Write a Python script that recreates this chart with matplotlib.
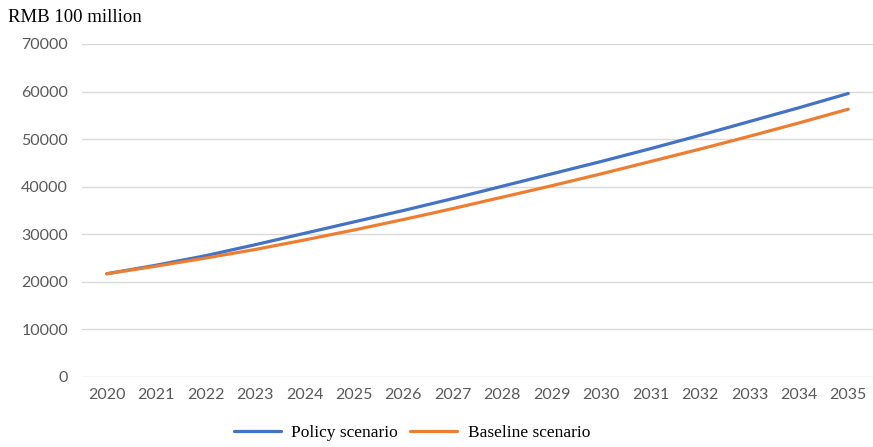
import matplotlib.pyplot as plt

years = [str(y) for y in range(2020, 2036)]
policy = [21700, 23500, 25500, 27800, 30200, 32600, 35000, 37500,
          40100, 42700, 45300, 48000, 50800, 53700, 56600, 59600]
baseline = [21700, 23300, 25000, 26800, 28800, 30900, 33100, 35400,
            37800, 40200, 42700, 45300, 47900, 50600, 53400, 56300]

fig = plt.figure(figsize=(8.73, 4.47), dpi=100)
ax = fig.add_axes([82 / 873, 1 - 377 / 447, 791 / 873, 333 / 447])

ax.plot(years, policy, color='#4472C4', lw=2.3, label='Policy scenario', solid_capstyle='round')
ax.plot(years, baseline, color='#ED7D31', lw=2.3, label='Baseline scenario', solid_capstyle='round')

ax.set_xlim(-0.5, len(years) - 0.5)
ax.set_ylim(0, 70000)
ax.set_yticks(range(0, 70001, 10000))
ax.grid(axis='y', color='#d9d9d9', lw=1)
ax.set_axisbelow(True)
for s in ax.spines.values():
    s.set_visible(False)
ax.tick_params(length=0, labelsize=11.5, labelcolor='#595959', pad=10)
ax.tick_params(axis='x', pad=8)
for lbl in ax.get_xticklabels() + ax.get_yticklabels():
    lbl.set_family('Lato')

fig.text(8 / 873, 1 - 17 / 447, 'RMB 100 million', family='Liberation Serif',
         fontsize=13.5, va='center', ha='left')
fig.legend(loc='center', bbox_to_anchor=(412 / 873, 1 - 433 / 447), ncol=2, frameon=False,
           prop={'family': 'Liberation Serif', 'size': 12.5}, handlelength=2.7,
           columnspacing=0.7, handletextpad=0.6)

fig.savefig('out.png', dpi=100)
